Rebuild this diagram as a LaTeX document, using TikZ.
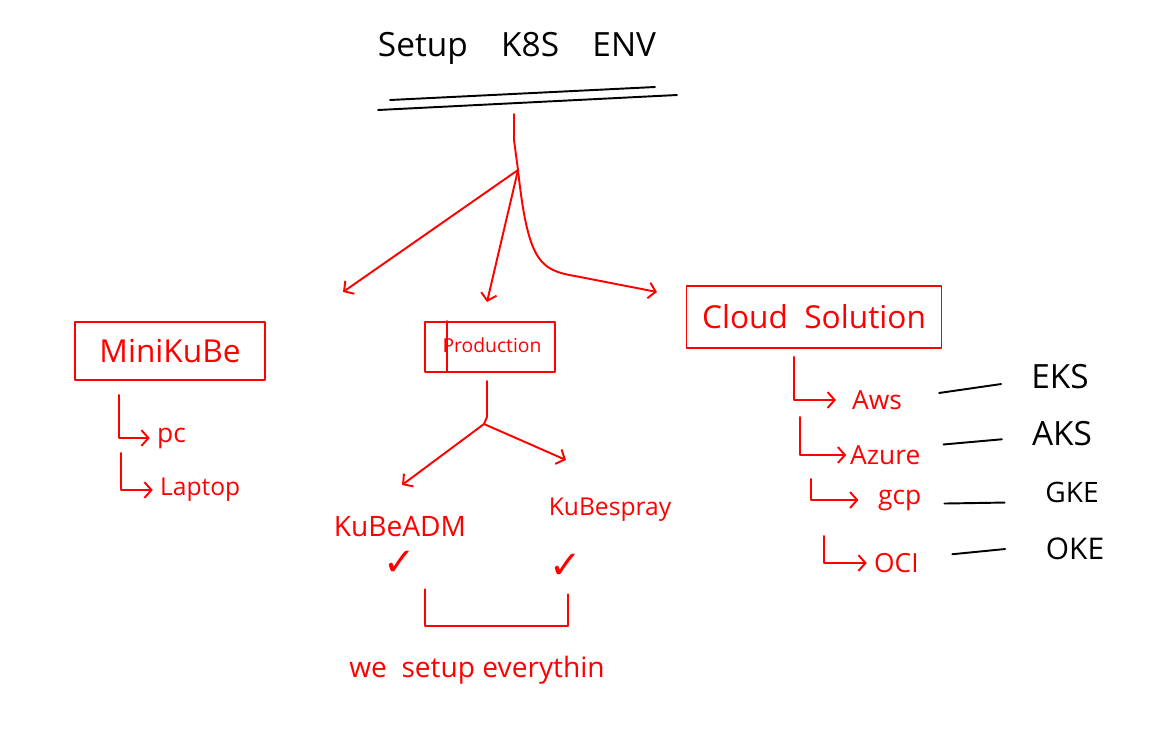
\documentclass[tikz,border=0pt]{standalone}
\usepackage{fontspec}
\setmainfont{Open Sans}
\newfontfamily\symbfont{DejaVu Sans}
\usetikzlibrary{arrows.meta}
\tikzset{
  ink/.style={red, line width=1.1pt, line cap=round, line join=round},
  pen/.style={black, line width=1.1pt, line cap=round},
  hook/.style={-{Straight Barb[length=4pt, width=9pt]}},
  box/.style={ink, draw, rectangle, inner sep=0pt},
  redtxt/.style={red, inner sep=1pt},
  blktxt/.style={black, inner sep=1pt},
}
\newcommand{\fsz}[1]{\fontsize{#1}{#1}\selectfont}
\begin{document}
\begin{tikzpicture}[x=0.02cm, y=-0.02cm]
\useasboundingbox (0,0) rectangle (1165,738);
% title
\node[blktxt, font=\fsz{19}] (title) at (517,48) {Setup\quad K8S\quad ENV};
\coordinate (ulA) at (390,100);
\coordinate (ulB) at (655,87);
\coordinate (ulC) at (378,110);
\coordinate (ulD) at (677,95);
\draw[pen] (ulA) -- (ulB);
\draw[pen] (ulC) -- (ulD);
\coordinate (trunk) at (514,114);
\coordinate (fork) at (518,170);
\draw[ink] (trunk) -- (514,140) -- (fork);
% three branches
\node[box, minimum width=190*0.02cm, minimum height=58*0.02cm] (mini) at (170,351) {};
\node[redtxt, font=\fsz{18}] (minitxt) at (mini) {MiniKuBe};
\node[box, minimum width=130*0.02cm, minimum height=50*0.02cm] (prod) at (490,347) {};
\draw[ink] (prod.north west) ++(23,0) -- ++(0,50);
\node[redtxt, font=\fsz{11}] (prodtxt) at (492,345) {Production};
\node[box, minimum width=255*0.02cm, minimum height=62*0.02cm] (cloud) at (814,317) {};
\node[redtxt, font=\fsz{18}] (cloudtxt) at (cloud) {Cloud\ \ Solution};
\coordinate (tipmini) at (343,292);
\coordinate (tipprod) at (487,302);
\coordinate (tipcloud) at (657,292);
\draw[ink, hook] (fork) -- (tipmini);
\draw[ink, hook] (fork) -- (tipprod);
\draw[ink, hook] (fork) .. controls (528,262) and (540,270) .. (575,276) -- (tipcloud);
% minikube
\node[redtxt, font=\fsz{15}, anchor=west] (pc) at (155,438) {pc};
\node[redtxt, font=\fsz{14}, anchor=west] (laptop) at (158,490) {Laptop};
\draw[ink, hook] (mini.south west) ++(45,14) |- ([xshift=-3pt]pc.west);
\draw[ink, hook] (mini.south west) ++(47,72) |- ([xshift=-3pt]laptop.west);
% production
\coordinate (pfork) at (484,424);
\draw[ink] (prod.south) ++(-3,8) -- ++(0,36) -- (pfork);
\node[redtxt, font=\fsz{16}] (adm) at (400,527) {KuBeADM};
\node[redtxt, font=\fsz{14}] (spray) at (610,510) {KuBespray};
\coordinate (tipadm) at (402,485);
\coordinate (tipspray) at (566,460);
\draw[ink, hook] (pfork) -- (tipadm);
\draw[ink, hook] (pfork) -- (tipspray);
\node[redtxt, font=\symbfont\fsz{22}] (chkadm) at (400,563) {✓};
\node[redtxt, font=\symbfont\fsz{22}] (chkspray) at (566,566) {✓};
\draw[ink] (chkadm.south) ++(25,12) |- ++(143,37) coordinate (brk) -- ++(0,-32);
\node[redtxt, font=\fsz{16}] (every) at (477,670) {we\ \ setup everythin};
% cloud
\node[redtxt, font=\fsz{15}, anchor=west] (aws) at (850,400) {Aws};
\node[redtxt, font=\fsz{15}, anchor=west] (azure) at (848,455) {Azure};
\node[redtxt, font=\fsz{15}, anchor=west] (gcp) at (876,500) {gcp};
\node[redtxt, font=\fsz{15}, anchor=west] (oci) at (872,563) {OCI};
\draw[ink, hook] (cloud.south west) ++(108,8) |- ([xshift=-8pt]aws.west);
\draw[ink, hook] (cloud.south west) ++(114,68) |- ([xshift=-1pt]azure.west);
\draw[ink, hook] (cloud.south west) ++(125,130) |- ([xshift=-10pt]gcp.west);
\draw[ink, hook] (cloud.south west) ++(138,187) |- ([xshift=-3pt]oci.west);
\node[blktxt, font=\fsz{19}] (eks) at (1060,377) {EKS};
\node[blktxt, font=\fsz{19}] (aks) at (1062,434) {AKS};
\node[blktxt, font=\fsz{16}] (gke) at (1072,492) {GKE};
\node[blktxt, font=\fsz{17}] (oke) at (1075,549) {OKE};
\draw[pen] ([xshift=20pt, yshift=4pt]aws.east) -- ([xshift=-16pt, yshift=-4pt]eks.west);
\draw[pen] ([xshift=12pt, yshift=6pt]azure.east) -- ([xshift=-16pt, yshift=-3pt]aks.west);
\draw[pen] ([xshift=12pt, yshift=-2pt]gcp.east) -- ([xshift=-22pt, yshift=-6pt]gke.west);
\draw[pen] ([xshift=18pt, yshift=5pt]oci.east) -- ([xshift=-22pt, yshift=0pt]oke.west);
\end{tikzpicture}
\end{document}
